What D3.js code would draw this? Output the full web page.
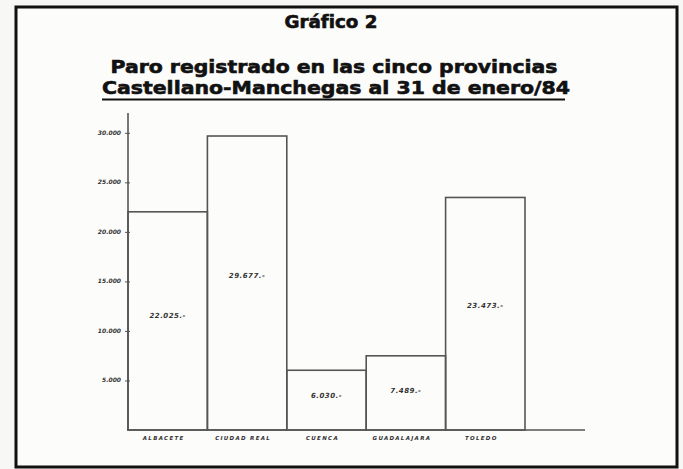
<!DOCTYPE html>
<html lang="es">
	<head>
		<meta charset="utf-8" />
		<title>Gráfico 2</title>
		<script type="text/javascript" src="https://cdn.jsdelivr.net/npm/d3@7"></script>
		<style type="text/css">
			body { margin: 0; background: #f7f7f5; }
			svg { display: block; }
			.title { font-family: "DejaVu Sans", sans-serif; font-weight: bold; fill: #111; stroke: #111; stroke-width: 0.6px; }
			.hand { font-family: "DejaVu Sans", sans-serif; font-style: italic; font-weight: bold; fill: #333; }
		</style>
	</head>
	<body>
		<script type="text/javascript">
			//Data
			var provincias = ["ALBACETE", "CIUDAD REAL", "CUENCA", "GUADALAJARA", "TOLEDO"];
			var parados = [22025, 29677, 6030, 7489, 23473];
			var barLabels = ["22.025.-", "29.677.-", "6.030.-", "7.489.-", "23.473.-"];
			var yTicks = [5000, 10000, 15000, 20000, 25000, 30000];
			var yTickLabels = ["5.000", "10.000", "15.000", "20.000", "25.000", "30.000"];
			//where the hand-written value sits inside each bar (as data value)
			var labelLevels = [11300, 15300, 3200, 3700, 12300];

			var w = 683;
			var h = 469;

			var svg = d3.select("body")
				.append("svg")
				.attr("width", w)
				.attr("height", h);

			//Frame
			svg.append("rect")
				.attr("x", 16)
				.attr("y", 7)
				.attr("width", 661)
				.attr("height", 460)
				.attr("fill", "#fcfcfb")
				.attr("stroke", "#111")
				.attr("stroke-width", 3);

			//Titles
			svg.append("text")
				.attr("class", "title")
				.attr("x", 331)
				.attr("y", 28)
				.attr("text-anchor", "middle")
				.attr("textLength", 93)
				.attr("lengthAdjust", "spacingAndGlyphs")
				.style("font-size", "17px")
				.text("Gráfico 2");

			svg.append("text")
				.attr("class", "title")
				.attr("x", 334)
				.attr("y", 73)
				.attr("text-anchor", "middle")
				.attr("textLength", 447)
				.attr("lengthAdjust", "spacingAndGlyphs")
				.style("font-size", "18px")
				.text("Paro registrado en las cinco provincias");

			svg.append("text")
				.attr("class", "title")
				.attr("x", 336)
				.attr("y", 94)
				.attr("text-anchor", "middle")
				.attr("textLength", 468)
				.attr("lengthAdjust", "spacingAndGlyphs")
				.style("font-size", "18px")
				.text("Castellano-Manchegas al 31 de enero/84");

			svg.append("line")
				.attr("x1", 102)
				.attr("x2", 565)
				.attr("y1", 99.5)
				.attr("y2", 99.5)
				.attr("stroke", "#111")
				.attr("stroke-width", 2);

			//Scales
			var xScale = d3.scaleBand()
				.domain(provincias)
				.range([128, 525])
				.padding(0);

			var yScale = d3.scaleLinear()
				.domain([0, 32000])
				.range([430, 113]);

			//Bars
			svg.append("g")
				.attr("id", "bars")
				.selectAll("rect")
				.data(parados)
				.enter()
				.append("rect")
				.attr("x", function(d, i) {
					return xScale(provincias[i]);
				})
				.attr("y", function(d) {
					return yScale(d);
				})
				.attr("width", xScale.bandwidth())
				.attr("height", function(d) {
					return yScale(0) - yScale(d);
				})
				.attr("fill", "none")
				.attr("stroke", "#555")
				.attr("stroke-width", 1.6);

			//Value labels inside the bars
			svg.append("g")
				.selectAll("text")
				.data(barLabels)
				.enter()
				.append("text")
				.attr("class", "hand")
				.attr("x", function(d, i) {
					return xScale(provincias[i]) + xScale.bandwidth() / 2;
				})
				.attr("y", function(d, i) {
					return yScale(labelLevels[i]);
				})
				.attr("text-anchor", "middle")
				.style("font-size", "7px")
				.style("letter-spacing", "0.5px")
				.text(function(d) {
					return d;
				});

			//Y axis
			var yAxis = d3.axisLeft()
				.scale(yScale)
				.tickValues(yTicks)
				.tickSize(3)
				.tickPadding(4)
				.tickFormat(function(d, i) {
					return yTickLabels[i];
				});

			var yg = svg.append("g")
				.attr("class", "y axis")
				.attr("transform", "translate(128,0)")
				.call(yAxis);
			yg.select(".domain").remove();
			yg.append("line")
				.attr("y1", 113)
				.attr("y2", 430)
				.attr("stroke", "#555")
				.attr("stroke-width", 1.6);
			yg.selectAll(".tick line")
				.attr("x1", 2)
				.attr("stroke", "#555");
			yg.selectAll(".tick text")
				.attr("class", "hand")
				.attr("fill", "#333")
				.attr("dy", "0.2em")
				.style("font-size", "6px")
				.attr("font-family", null);

			//Baseline
			svg.append("line")
				.attr("x1", 127)
				.attr("x2", 585)
				.attr("y1", yScale(0))
				.attr("y2", yScale(0))
				.attr("stroke", "#555")
				.attr("stroke-width", 1.6);

			//Category labels
			svg.append("g")
				.selectAll("text")
				.data(provincias)
				.enter()
				.append("text")
				.attr("class", "hand")
				.attr("x", function(d) {
					return xScale(d) + xScale.bandwidth() / 2 - 4;
				})
				.attr("y", 440)
				.attr("text-anchor", "middle")
				.style("font-size", "5.5px")
				.style("letter-spacing", "1.3px")
				.text(function(d) {
					return d;
				});
		</script>
	</body>
</html>
